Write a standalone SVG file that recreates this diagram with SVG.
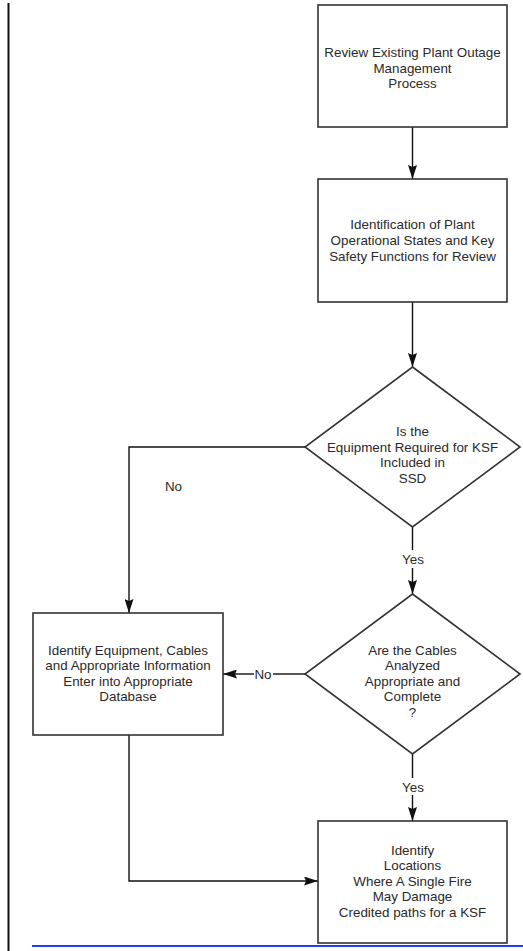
<svg xmlns="http://www.w3.org/2000/svg" width="523" height="951" viewBox="0 0 523 951">
  <defs>
    <marker id="arr" markerUnits="userSpaceOnUse" markerWidth="14" markerHeight="9" viewBox="0 0 14 9" refX="14" refY="4.5" orient="auto">
      <path d="M0,0 L14,4.5 L0,9 L2,4.5 Z" fill="#111"/>
    </marker>
    <style>
      .box { fill: #fff; stroke: #333; stroke-width: 1.6; }
      .t { font-family: "Liberation Sans", Arial, sans-serif; font-size: 13.4px; fill: #2a2a2a; text-anchor: middle; }
      .c { fill: none; stroke: #111; stroke-width: 1.4; }
      .ca { fill: none; stroke: #111; stroke-width: 1.4; marker-end: url(#arr); }
    </style>
  </defs>
  <rect width="523" height="951" fill="#fff"/>
  <line x1="8.5" y1="3" x2="8.5" y2="951" stroke="#111" stroke-width="2"/>
  <line x1="32" y1="946" x2="523" y2="946" stroke="#1f3cff" stroke-width="2"/>

  <g id="connectors">
    <line class="ca" x1="412.5" y1="127" x2="412.5" y2="179"/>
    <line class="ca" x1="412.5" y1="302" x2="412.5" y2="367"/>
    <line class="c" x1="412.5" y1="527" x2="412.5" y2="550"/>
    <text class="t" x="413" y="564">Yes</text>
    <line class="ca" x1="412.5" y1="568" x2="412.5" y2="594"/>
    <path class="ca" d="M305,447 H129 V613"/>
    <text class="t" x="173.5" y="491">No</text>
    <line class="c" x1="305" y1="674" x2="273" y2="674"/>
    <text class="t" x="263" y="678.5">No</text>
    <line class="ca" x1="254" y1="674" x2="223" y2="674"/>
    <line class="c" x1="412.5" y1="754" x2="412.5" y2="778"/>
    <text class="t" x="413" y="791.5">Yes</text>
    <line class="ca" x1="412.5" y1="795" x2="412.5" y2="821"/>
    <path class="ca" d="M129,735 V881 H318"/>
  </g>

  <g id="review">
    <rect class="box" x="318" y="5" width="189" height="122"/>
    <text class="t" x="412.5" y="57">Review Existing Plant Outage</text>
    <text class="t" x="412.5" y="72.5">Management</text>
    <text class="t" x="412.5" y="88">Process</text>
  </g>

  <g id="identification">
    <rect class="box" x="318" y="179" width="189" height="123"/>
    <text class="t" x="412.5" y="228.5">Identification of Plant</text>
    <text class="t" x="412.5" y="244.5">Operational States and Key</text>
    <text class="t" x="412.5" y="260.5">Safety Functions for Review</text>
  </g>

  <g id="decision1">
    <polygon class="box" points="412.5,367 520,447 412.5,527 305,447"/>
    <text class="t" x="412.5" y="436">Is the</text>
    <text class="t" x="412.5" y="451.5">Equipment Required for KSF</text>
    <text class="t" x="412.5" y="467">Included in</text>
    <text class="t" x="412.5" y="482.5">SSD</text>
  </g>

  <g id="decision2">
    <polygon class="box" points="412.5,594 520,674 412.5,754 305,674"/>
    <text class="t" x="412.5" y="654.5">Are the Cables</text>
    <text class="t" x="412.5" y="670">Analyzed</text>
    <text class="t" x="412.5" y="685.5">Appropriate and</text>
    <text class="t" x="412.5" y="701">Complete</text>
    <text class="t" x="412.5" y="716.5">?</text>
  </g>

  <g id="identify-equipment">
    <rect class="box" x="33" y="613" width="190" height="122"/>
    <text class="t" x="128" y="654.5">Identify Equipment, Cables</text>
    <text class="t" x="128" y="670">and Appropriate Information</text>
    <text class="t" x="128" y="685.5">Enter into Appropriate</text>
    <text class="t" x="128" y="701">Database</text>
  </g>

  <g id="identify-locations">
    <rect class="box" x="318" y="821" width="189" height="122"/>
    <text class="t" x="412.5" y="854.5">Identify</text>
    <text class="t" x="412.5" y="870">Locations</text>
    <text class="t" x="412.5" y="885.5">Where A Single Fire</text>
    <text class="t" x="412.5" y="901">May Damage</text>
    <text class="t" x="412.5" y="916.5">Credited paths for a KSF</text>
  </g>
</svg>
